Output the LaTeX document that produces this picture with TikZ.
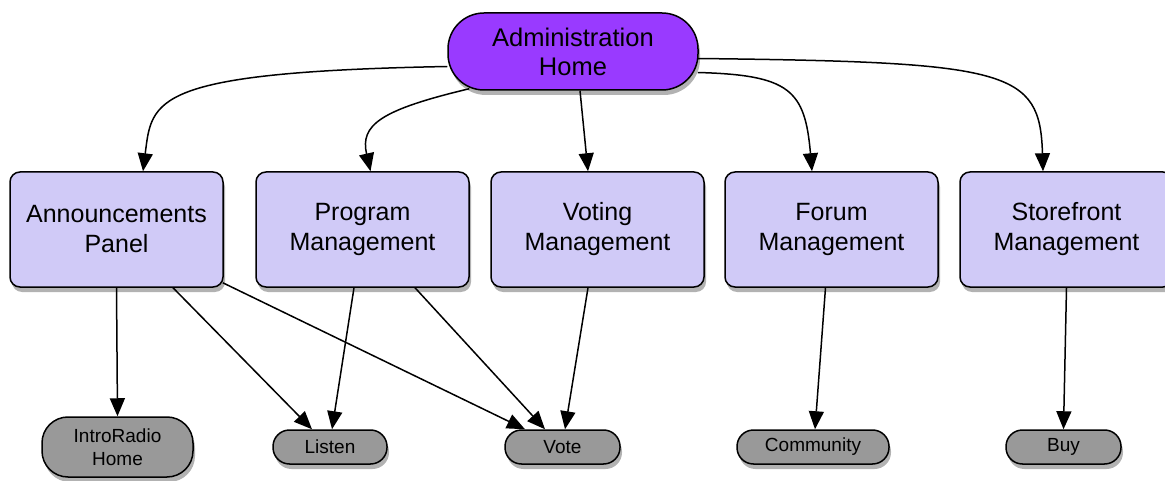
\documentclass[tikz,border=0pt]{standalone}
\usepackage{fontspec}
\setmainfont{Liberation Sans}
\usetikzlibrary{arrows.meta,calc,shadows}
\definecolor{adminpurple}{RGB}{153,58,255}
\definecolor{midlav}{RGB}{208,202,247}
\definecolor{leafgray}{RGB}{153,153,153}
\tikzset{
  shd/.style={drop shadow={shadow xshift=2pt,shadow yshift=-5pt,opacity=0.3,fill=black}},
  adminbox/.style={draw=black,line width=1.5pt,fill=adminpurple,rounded corners=36pt,
    minimum width=250pt,minimum height=77pt,inner sep=0pt,align=center,shd,
    font=\fontsize{25.5}{29}\selectfont},
  midbox/.style={draw=black,line width=1.5pt,fill=midlav,rounded corners=10pt,
    minimum width=213pt,minimum height=115pt,inner sep=0pt,align=center,shd,
    font=\fontsize{25}{30}\selectfont},
  leafbox/.style={draw=black,line width=1.5pt,fill=leafgray,rounded corners=16.5pt,
    minimum height=34pt,inner sep=0pt,align=center,shd,
    font=\fontsize{19}{23.5}\selectfont},
  conn/.style={line width=1.5pt,-{Triangle[length=18pt,width=15pt]}},
}
\begin{document}
\begin{tikzpicture}[x=1pt,y=-1pt]
\useasboundingbox (0,0) rectangle (1165,481);
\clip (0,0) rectangle (1165,481);
% nodes
\node[adminbox] (admin) at (573,51.5) {Administration\\Home};
\node[midbox] (ann)   at (116.5,229.5) {Announcements\\Panel};
\node[midbox] (prog)  at (362.5,229.5) {Program\\Management};
\node[midbox] (vot)   at (597.5,229.5) {Voting\\Management};
\node[midbox] (forum) at (831.5,229.5) {Forum\\Management};
\node[midbox] (store) at (1066.5,229.5) {Storefront\\Management};
\node[leafbox,minimum width=151pt,minimum height=60pt,rounded corners=26pt] (intro) at (117.5,447) {IntroRadio\\Home};
\node[leafbox,minimum width=114pt] (listen) at (330,447) {Listen};
\node[leafbox,minimum width=115pt] (vote) at (562.5,447) {Vote};
\node[leafbox,minimum width=152pt] (comm) at (813,447) {Community};
\node[leafbox,minimum width=115pt] (buy) at (1063.5,447) {Buy};
% top connectors
\draw[conn] ($(admin.west)+(0,15)$) .. controls (150,72) and (152,100) .. ($(ann.north)+(26.5,0)$);
\draw[conn] ($(admin.south west)+(22,-2)$) .. controls (380,110) and (360,125) .. ($(prog.north)+(8,0)$);
\draw[conn] ($(admin.south)+(7,0)$) -- ($(vot.north)+(-9.5,0)$);
\draw[conn] ($(admin.east)+(-1,21)$) .. controls (790,75) and (805,90) .. ($(forum.north)+(-19.5,0)$);
\draw[conn] ($(admin.east)+(-1,7)$) .. controls (1010,62) and (1040,70) .. ($(store.north)+(-23.5,0)$);
% lower connectors
\draw[conn] (ann.south) -- (intro.north);
\draw[conn] ($(ann.south)+(56.5,0)$) -- ($(listen.north)+(-18,0)$);
\draw[conn] ($(prog.south)+(-8.5,0)$) -- ($(listen.north)+(2,0)$);
\draw[conn] ($(ann.south east)+(-1,-5)$) -- ($(vote.north)+(-37.5,0)$);
\draw[conn] ($(prog.south)+(52.5,0)$) -- ($(vote.north)+(-17.5,0)$);
\draw[conn] ($(vot.south)+(-9.5,0)$) -- ($(vote.north)+(2.5,0)$);
\draw[conn] ($(forum.south)+(-6,0)$) -- ($(comm.north)+(2,0)$);
\draw[conn] (store.south) -- (buy.north);
\end{tikzpicture}
\end{document}
